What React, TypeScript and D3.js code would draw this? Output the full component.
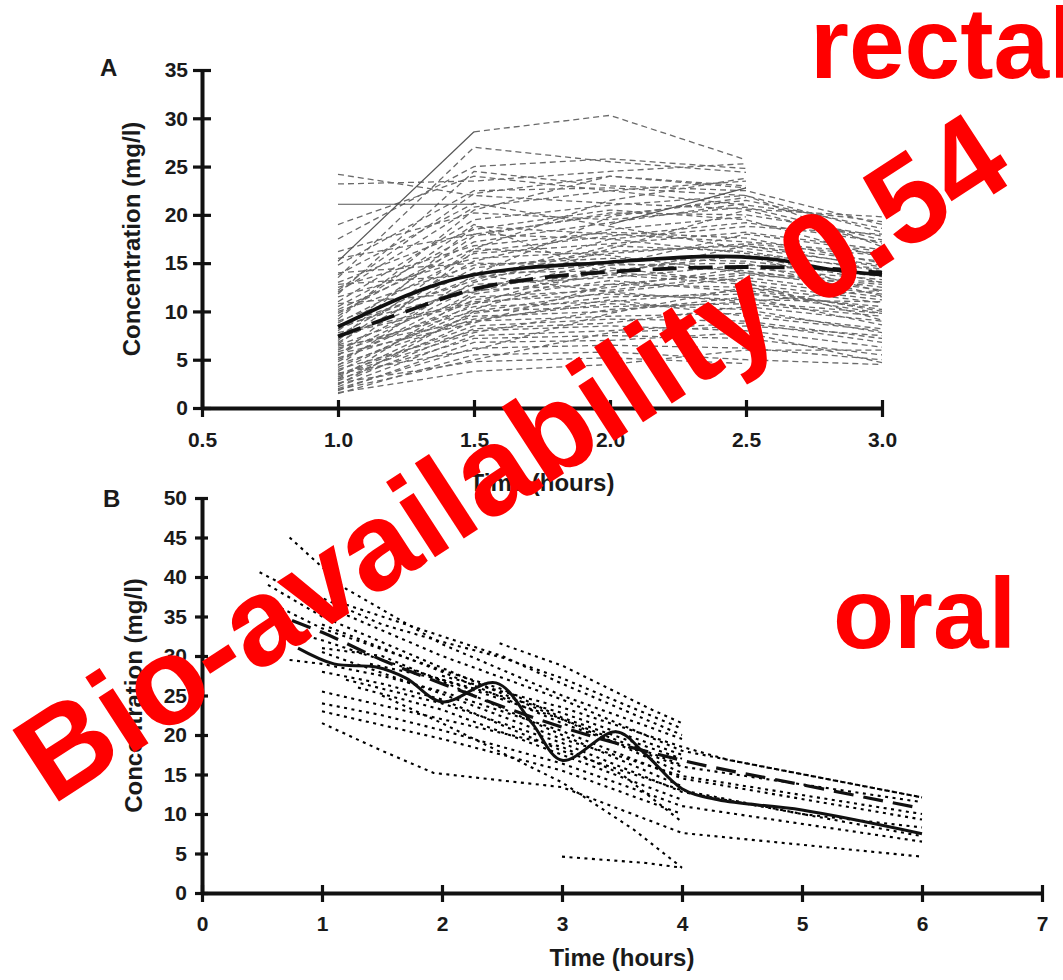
import * as d3 from "d3";
import { useEffect, useRef } from "react";

// panel A (rectal): sample times and one row per subject (null = no sample)
const rectalTimes = [1.0, 1.5, 2.0, 2.5, 3.0];
const rectalSubjects: (number | null)[][] = [
  [null, 28.6, 30.3, 25.7, null],
  [13.5, 27.0, 25.5, 24.4, null],
  [24.2, 22.0, 21.2, 20.6, 19.8],
  [23.2, 23.5, 24.5, 25.3, null],
  [17.5, 25.0, 25.8, 24.8, null],
  [19.0, 24.0, 22.5, 21.0, 19.3],
  [14.8, 22.5, 22.8, 22.0, 18.2],
  [12.0, 20.8, 22.5, 23.5, null],
  [16.2, 20.2, 19.5, 20.8, 17.4],
  [11.0, 19.5, 21.0, 22.0, 16.7],
  [13.0, 18.5, 20.5, 19.5, 15.6],
  [10.5, 18.0, 17.5, 18.8, 18.0],
  [9.8, 17.2, 19.2, 21.2, null],
  [12.5, 16.8, 18.2, 17.6, 15.0],
  [8.8, 16.0, 17.0, 18.2, 16.4],
  [11.5, 15.5, 16.2, 16.8, 14.6],
  [7.5, 15.2, 18.5, 19.8, null],
  [10.0, 14.8, 15.5, 15.2, 13.6],
  [6.8, 14.5, 16.0, 17.0, 15.8],
  [9.0, 14.0, 14.2, 15.8, 13.0],
  [8.2, 13.5, 15.0, 14.2, 12.5],
  [6.0, 13.0, 16.8, 16.2, 14.2],
  [7.2, 12.8, 13.5, 14.8, 13.9],
  [5.5, 12.5, 14.0, 13.2, 11.5],
  [8.5, 12.2, 12.8, 12.5, 10.9],
  [4.8, 12.0, 15.2, 15.8, 12.0],
  [6.5, 11.5, 12.2, 13.8, 12.8],
  [5.0, 11.2, 13.2, 12.0, 9.8],
  [7.8, 11.0, 11.8, 11.2, 11.0],
  [3.8, 10.8, 12.5, 14.5, 13.3],
  [5.8, 10.5, 11.0, 12.2, 10.2],
  [4.2, 10.2, 14.5, 13.0, 9.1],
  [6.2, 10.0, 10.5, 10.8, 9.5],
  [3.2, 9.8, 11.5, 11.8, 10.5],
  [5.2, 9.5, 10.0, 11.5, 8.6],
  [4.5, 9.2, 10.8, 10.2, 7.8],
  [2.8, 9.0, 9.5, 9.8, 8.2],
  [3.5, 8.5, 9.2, 9.0, 7.2],
  [2.5, 8.2, 8.8, 10.5, 9.0],
  [4.0, 8.0, 8.5, 8.0, 6.3],
  [2.2, 7.5, 8.0, 8.8, 6.8],
  [3.0, 7.2, 7.5, 7.2, 5.5],
  [1.8, 6.8, 7.0, 7.8, 4.7],
  [2.0, 6.2, 6.5, 6.2, 5.0],
  [1.5, 5.5, 5.8, 5.0, 4.5],
  [2.6, 4.8, 5.2, 4.6, null],
  [1.6, 3.8, 4.5, 6.0, 6.0],
  [10.8, 12.0, 16.5, 20.5, 17.0],
  [14.0, 15.0, 14.8, 18.0, 16.2],
  [12.8, 13.8, 19.8, 21.8, null],
  [8.0, 17.8, 20.2, 20.0, 17.8],
  [9.5, 19.0, 13.8, 12.8, 11.2],
  [13.8, 21.2, 18.8, 16.5, 14.8],
  [6.6, 16.5, 21.5, 23.8, null],
  [11.8, 24.5, 23.0, 22.5, 19.0],
  [3.6, 6.0, 9.8, 12.5, 10.0],
  [9.2, 20.5, 24.0, 22.8, null],
  [7.0, 18.8, 18.0, 17.2, 16.0],
  [5.4, 16.2, 17.8, 19.2, 17.2],
  [4.4, 13.8, 12.0, 11.0, 12.2],
  [3.0, 11.8, 13.8, 16.8, 15.2],
  [2.4, 10.0, 12.0, 13.5, 11.8],
  [6.4, 9.0, 11.2, 9.5, 8.0],
  [1.9, 5.0, 7.8, 8.5, 7.5],
  [8.6, 13.2, 17.5, 16.0, 14.4],
  [10.2, 16.5, 15.8, 14.0, 12.2],
  [15.5, 18.0, 20.0, 21.5, 18.6],
  [12.2, 22.2, 24.0, 23.0, null],
  [5.6, 8.8, 12.8, 14.0, 13.0],
  [3.4, 7.8, 10.2, 11.0, 9.8],
  [7.6, 10.8, 14.8, 15.0, 11.6],
];
const rectalSolidSubjects: (number | null)[][] = [
  [15.2, 28.6, null, null, null],
  [21.1, 21.1, null, null, null],
  [null, null, 19.0, 22.8, null],
];
const rectalObserved: [number, number][] = [
  [1.0, 8.4], [1.5, 13.8], [2.0, 15.1], [2.4, 15.7], [2.6, 15.4], [2.8, 14.4], [3.0, 13.8],
];
const rectalPredicted: [number, number][] = [
  [1.0, 7.4], [1.25, 10.0], [1.5, 12.3], [1.75, 13.5], [2.0, 14.1], [2.5, 14.6], [2.75, 14.5], [3.0, 14.0],
];

// panel B (oral): [time, concentration] per subject
const oralSubjects: [number, number][][] = [
  [[0.73, 45.0], [1.2, 38.5], [2.0, 31.5], [3.0, 25.0], [4.0, 19.5]],
  [[0.48, 40.6], [1.0, 36.5], [2.0, 30.0], [3.0, 24.5], [4.0, 18.0], [6.0, 12.1]],
  [[0.55, 39.0], [1.0, 35.0], [2.0, 28.5], [3.0, 22.0], [4.0, 15.2]],
  [[0.9, 38.0], [1.5, 34.0], [2.0, 31.8], [2.5, 29.8], [3.0, 27.2], [4.0, 20.8]],
  [[2.48, 31.6], [3.0, 28.8], [3.75, 23.2], [4.0, 21.5]],
  [[0.73, 29.5], [1.0, 29.0], [1.5, 27.5], [2.0, 25.5], [3.0, 20.5], [4.0, 14.5], [6.0, 9.3]],
  [[1.0, 24.0], [1.5, 22.5], [2.0, 20.6], [3.0, 16.4], [4.0, 11.0], [6.0, 6.5]],
  [[1.0, 21.5], [1.5, 18.0], [1.93, 15.2], [3.0, 13.4], [4.0, 7.6], [6.0, 4.6]],
  [[3.0, 4.6], [3.7, 3.8], [4.0, 3.2]],
  [[0.75, 33.0], [1.0, 32.0], [1.5, 29.5], [2.0, 27.0], [3.0, 22.8], [4.0, 17.5]],
  [[1.0, 31.0], [1.5, 30.0], [2.0, 26.8], [3.0, 20.0], [4.0, 13.5]],
  [[1.2, 36.5], [2.0, 32.5], [2.5, 30.0], [3.0, 26.5], [4.0, 20.0]],
  [[1.0, 34.0], [1.5, 31.0], [2.0, 28.0], [3.0, 21.5], [4.0, 16.0], [6.0, 11.5]],
  [[1.2, 27.0], [2.0, 24.0], [3.0, 19.0], [4.0, 12.8], [6.0, 7.2]],
  [[1.0, 25.5], [2.0, 22.0], [3.0, 18.5], [3.5, 15.0], [4.0, 9.0]],
  [[1.3, 26.0], [2.0, 23.2], [3.0, 17.5], [4.0, 11.8]],
  [[1.5, 25.0], [2.0, 21.5], [3.0, 14.0], [3.6, 8.0], [4.0, 3.2]],
  [[0.6, 36.5], [1.0, 33.5], [2.0, 28.2], [2.5, 25.8], [3.0, 22.2], [4.0, 17.0]],
  [[1.0, 30.5], [2.0, 25.2], [3.0, 19.5], [3.5, 17.2], [4.0, 14.8], [6.0, 10.0]],
  [[2.0, 27.5], [3.0, 23.5], [4.0, 18.5], [4.4, 16.8], [6.0, 12.1]],
  [[1.0, 28.0], [1.5, 26.5], [2.0, 24.5], [3.0, 18.0], [4.0, 13.0], [5.0, 10.0], [6.0, 8.3]],
  [[1.4, 29.0], [2.0, 27.0], [3.0, 22.0], [4.0, 16.2]],
  [[1.0, 23.0], [2.0, 19.5], [3.0, 15.5], [4.0, 10.0]],
];
const oralObserved: [number, number][] = [
  [0.8, 31.0], [1.1, 29.0], [1.45, 28.6], [1.7, 27.2], [2.0, 24.2], [2.45, 26.6], [2.75, 21.5],
  [3.0, 16.8], [3.45, 20.4], [3.7, 17.5], [4.0, 13.2], [4.3, 11.8], [5.0, 10.5], [6.0, 7.5],
];
const oralPredicted: [number, number][] = [
  [0.75, 34.5], [1.0, 33.0], [1.5, 29.5], [2.0, 26.5], [3.0, 21.0], [4.0, 16.8], [5.0, 13.7], [6.0, 10.7],
];

const rectalXTicks = [0.5, 1.0, 1.5, 2.0, 2.5, 3.0];
const rectalYTicks = [0, 5, 10, 15, 20, 25, 30, 35];
const oralXTicks = [0, 1, 2, 3, 4, 5, 6, 7];
const oralYTicks = [0, 5, 10, 15, 20, 25, 30, 35, 40, 45, 50];

const FONT = "'Liberation Sans', Arial, Helvetica, sans-serif";

export default function App() {
  const ref = useRef<SVGSVGElement>(null);

  useEffect(() => {
    const svg = d3.select(ref.current);
    svg.selectAll("*").remove();

    const xA = d3.scaleLinear().domain([0.5, 3.0]).range([202, 882]);
    const yA = d3.scaleLinear().domain([0, 35]).range([408, 70]);
    const xB = d3.scaleLinear().domain([0, 7]).range([202, 1042]);
    const yB = d3.scaleLinear().domain([0, 50]).range([893, 498]);

    const toPairs = (row: (number | null)[]) =>
      rectalTimes
        .map((t, i) => [t, row[i]] as [number, number | null])
        .filter((p) => p[1] !== null) as [number, number][];

    const lineA = d3.line<[number, number]>().x((d) => xA(d[0])).y((d) => yA(d[1]));
    const lineB = d3.line<[number, number]>().x((d) => xB(d[0])).y((d) => yB(d[1]));

    // individual rectal profiles
    svg.append("g")
      .selectAll("path")
      .data(rectalSubjects.map(toPairs))
      .enter()
      .append("path")
      .attr("d", (d) => lineA(d))
      .attr("fill", "none")
      .attr("stroke", "#6a6a6a")
      .attr("stroke-width", 1.3)
      .attr("stroke-dasharray", "6,4");

    svg.append("g")
      .selectAll("path")
      .data(rectalSolidSubjects.map(toPairs))
      .enter()
      .append("path")
      .attr("d", (d) => lineA(d))
      .attr("fill", "none")
      .attr("stroke", "#555")
      .attr("stroke-width", 1.2);

    // rectal means
    svg.append("path")
      .attr("d", lineA.curve(d3.curveMonotoneX)(rectalPredicted))
      .attr("fill", "none")
      .attr("stroke", "#111")
      .attr("stroke-width", 3.8)
      .attr("stroke-dasharray", "24,12");
    svg.append("path")
      .attr("d", lineA.curve(d3.curveMonotoneX)(rectalObserved))
      .attr("fill", "none")
      .attr("stroke", "#111")
      .attr("stroke-width", 3.6);

    // individual oral profiles
    svg.append("g")
      .selectAll("path")
      .data(oralSubjects)
      .enter()
      .append("path")
      .attr("d", (d) => lineB(d))
      .attr("fill", "none")
      .attr("stroke", "#000")
      .attr("stroke-width", 2.1)
      .attr("stroke-dasharray", "3,4.5");

    // oral means
    svg.append("path")
      .attr("d", lineB.curve(d3.curveMonotoneX)(oralPredicted))
      .attr("fill", "none")
      .attr("stroke", "#111")
      .attr("stroke-width", 3.2)
      .attr("stroke-dasharray", "20,10");
    svg.append("path")
      .attr("d", lineB.curve(d3.curveCatmullRom.alpha(0.5))(oralObserved))
      .attr("fill", "none")
      .attr("stroke", "#111")
      .attr("stroke-width", 3);

    // axes
    const styleAxis = (g: d3.Selection<SVGGElement, unknown, null, undefined>) => {
      g.attr("font-family", FONT).attr("font-size", 21);
      g.select(".domain").attr("stroke", "#111").attr("stroke-width", 4);
      g.selectAll(".tick line").attr("stroke", "#111").attr("stroke-width", 3.2);
      g.selectAll(".tick text").attr("fill", "#1a1a1a").attr("font-weight", "bold");
    };

    const axA_y = svg.append("g").attr("transform", "translate(202,0)")
      .call(d3.axisLeft(yA).tickValues(rectalYTicks).tickSize(9).tickSizeOuter(0).tickPadding(5));
    styleAxis(axA_y);
    axA_y.selectAll(".tick line").attr("x1", 9);

    const axA_x = svg.append("g").attr("transform", "translate(0,408)")
      .call(d3.axisBottom(xA).tickValues(rectalXTicks).tickFormat(d3.format(".1f")).tickSize(9).tickSizeOuter(0).tickPadding(15));
    styleAxis(axA_x);
    axA_x.selectAll(".tick line").attr("y1", -8);

    const axB_y = svg.append("g").attr("transform", "translate(202,0)")
      .call(d3.axisLeft(yB).tickValues(oralYTicks).tickSize(7).tickSizeOuter(0).tickPadding(8));
    styleAxis(axB_y);
    axB_y.selectAll(".tick line").attr("x1", 6);

    const axB_x = svg.append("g").attr("transform", "translate(0,893)")
      .call(d3.axisBottom(xB).tickValues(oralXTicks).tickFormat(d3.format("d")).tickSize(9).tickSizeOuter(0).tickPadding(14));
    styleAxis(axB_x);
    axB_x.selectAll(".tick line").attr("y1", -8);

    const label = (x: number, y: number, text: string, size: number, rotate = 0, anchor = "middle") =>
      svg.append("text")
        .attr("transform", `translate(${x},${y}) rotate(${rotate})`)
        .attr("text-anchor", anchor)
        .attr("font-family", FONT)
        .attr("font-weight", "bold")
        .attr("font-size", size)
        .attr("fill", "#1a1a1a")
        .text(text);

    label(100, 76, "A", 24, 0, "start");
    label(103, 507, "B", 24, 0, "start");
    label(140, (yA(0) + yA(35)) / 2, "Concentration (mg/l)", 24, -90);
    label(142, (yB(0) + yB(50)) / 2, "Concentration (mg/l)", 24, -90);
    label((xA(0.5) + xA(3.0)) / 2, 491, "Time (hours)", 24);
    label((xB(0) + xB(7)) / 2, 966, "Time (hours)", 24);

    // red overlay annotations
    const red = (x: number, y: number, text: string, size: number, rotate = 0) =>
      svg.append("text")
        .attr("transform", `translate(${x},${y}) rotate(${rotate})`)
        .attr("font-family", FONT)
        .attr("font-weight", "bold")
        .attr("font-size", size)
        .attr("fill", "#ff0000")
        .text(text);

    red(810, 78, "rectal", 100);
    red(833, 648, "oral", 100);
    red(52, 806, "Bio-availability 0.54", 124, -33);
  }, []);

  return (
    <svg
      ref={ref}
      width={1063}
      height={980}
      style={{ position: "absolute", left: 0, top: 0, background: "white", display: "block" }}
    />
  );
}
